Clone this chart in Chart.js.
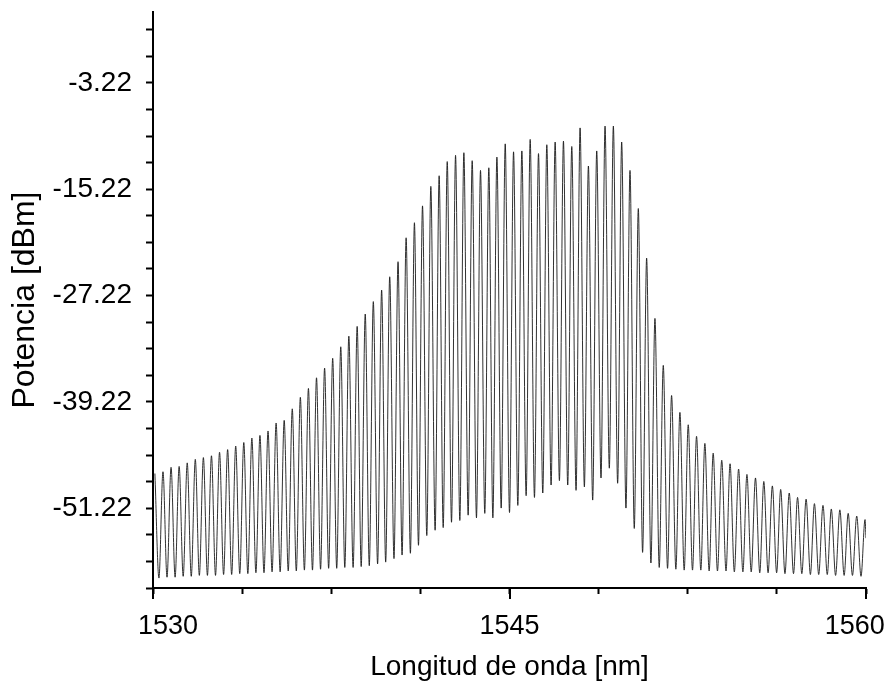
<!DOCTYPE html>
<html>
<head>
<meta charset="utf-8">
<script src="https://cdn.jsdelivr.net/npm/chart.js@4.4.1/dist/chart.umd.min.js"></script>
<style>
  html, body { margin: 0; padding: 0; background: #ffffff; }
  canvas { display: block; }
</style>
</head>
<body>
<canvas id="c" width="888" height="682"></canvas>
<script>
// ---- data ----
const peakWavelength = [
  1530.08,1530.42,1530.76,1531.10,1531.44,1531.78,1532.12,1532.46,1532.80,1533.14,
  1533.48,1533.82,1534.16,1534.50,1534.84,1535.18,1535.52,1535.86,1536.20,1536.54,
  1536.88,1537.22,1537.56,1537.90,1538.24,1538.59,1538.93,1539.27,1539.62,1539.96,
  1540.31,1540.65,1541.00,1541.34,1541.69,1542.04,1542.38,1542.73,1543.08,1543.43,
  1543.78,1544.13,1544.47,1544.82,1545.17,1545.52,1545.87,1546.22,1546.57,1546.92,
  1547.27,1547.62,1547.97,1548.32,1548.67,1549.02,1549.37,1549.72,1550.07,1550.42,
  1550.77,1551.12,1551.47,1551.82,1552.17,1552.52,1552.87,1553.22,1553.57,1553.93,
  1554.28,1554.64,1554.99,1555.35,1555.70,1556.06,1556.41,1556.77,1557.12,1557.48,
  1557.83,1558.19,1558.54,1558.90,1559.25,1559.61,1559.96
];
const peakPower = [
  -47.3,-47.1,-46.6,-46.5,-46.1,-45.7,-45.5,-45.3,-44.9,-44.6,
  -44.2,-43.8,-43.3,-43.0,-42.5,-41.6,-41.3,-40.0,-38.7,-37.7,
  -36.5,-35.4,-34.3,-33.0,-31.8,-30.7,-29.3,-27.9,-26.6,-25.1,
  -23.4,-20.7,-19.0,-17.1,-14.9,-13.7,-12.1,-11.4,-11.1,-12.0,
  -13.1,-12.8,-11.6,-10.1,-11.0,-10.9,-9.6,-11.2,-10.2,-9.9,
  -9.8,-10.4,-8.3,-12.6,-10.9,-8.1,-8.1,-9.9,-13.1,-17.4,
  -23.0,-29.8,-35.1,-38.5,-40.4,-41.8,-43.1,-43.9,-45.0,-45.8,
  -46.2,-46.8,-47.4,-47.8,-48.2,-48.7,-49.1,-49.5,-50.0,-50.2,
  -50.7,-50.9,-51.3,-51.4,-51.8,-52.1,-52.5
];
// minima between successive peaks (last entry: where the trace leaves the plot)
const troughWavelength = [
  1530.25,1530.59,1530.93,1531.27,1531.61,1531.95,1532.29,1532.63,1532.97,1533.31,
  1533.65,1533.99,1534.33,1534.67,1535.01,1535.35,1535.69,1536.03,1536.37,1536.71,
  1537.05,1537.39,1537.73,1538.07,1538.42,1538.76,1539.10,1539.45,1539.79,1540.14,
  1540.48,1540.83,1541.17,1541.52,1541.87,1542.21,1542.56,1542.91,1543.26,1543.61,
  1543.96,1544.30,1544.65,1545.00,1545.35,1545.70,1546.05,1546.40,1546.75,1547.10,
  1547.45,1547.80,1548.15,1548.50,1548.85,1549.20,1549.55,1549.90,1550.25,1550.60,
  1550.95,1551.30,1551.65,1552.00,1552.35,1552.70,1553.05,1553.40,1553.75,1554.11,
  1554.46,1554.82,1555.17,1555.53,1555.88,1556.24,1556.59,1556.95,1557.30,1557.66,
  1558.01,1558.37,1558.72,1559.08,1559.43,1559.79,1560.00
];
const troughPower = [
  -59.1,-59.0,-59.0,-58.9,-58.9,-58.8,-58.8,-58.8,-58.7,-58.7,
  -58.6,-58.6,-58.5,-58.5,-58.4,-58.4,-58.3,-58.3,-58.2,-58.2,
  -58.1,-58.0,-58.0,-57.9,-57.9,-57.8,-57.7,-57.5,-57.3,-56.9,
  -56.5,-56.3,-55.4,-54.3,-53.7,-53.4,-52.8,-52.6,-52.0,-52.3,
  -51.8,-52.3,-51.2,-51.7,-50.9,-49.8,-50.0,-49.5,-48.6,-48.1,
  -48.6,-49.2,-48.8,-50.3,-47.8,-46.7,-48.4,-51.2,-53.5,-56.2,
  -57.4,-57.9,-58.0,-58.1,-58.2,-58.2,-58.2,-58.3,-58.3,-58.3,
  -58.4,-58.4,-58.4,-58.5,-58.5,-58.5,-58.6,-58.6,-58.6,-58.7,
  -58.7,-58.7,-58.8,-58.8,-58.8,-58.9,-54.6
];
const xTickValues = [1530, 1533.75, 1537.5, 1541.25, 1545, 1548.75, 1552.5, 1556.25, 1560];
const xTickLabels = [1530, 1545, 1560];
const yTickValues = [-60.22,-57.22,-54.22,-51.22,-48.22,-45.22,-42.22,-39.22,-36.22,-33.22,-30.22,
                     -27.22,-24.22,-21.22,-18.22,-15.22,-12.22,-9.22,-6.22,-3.22,-0.22,2.78];
const yTickLabels = [-51.22, -39.22, -27.22, -15.22, -3.22];
const xTitle = 'Longitud de onda [nm]';
const yTitle = 'Potencia [dBm]';

// ---- build the trace (peak, minimum, peak, minimum ...) ----
const trace = [];
for (let i = 0; i < peakWavelength.length; i++) {
  trace.push({ x: peakWavelength[i], y: peakPower[i] });
  if (i < troughWavelength.length) trace.push({ x: troughWavelength[i], y: troughPower[i] });
}

const FONT = '"Liberation Sans", Arial, Helvetica, sans-serif';

// the end labels of the x axis sit slightly inside the axis ends, as in the original
function xLabel(v) {
  if (!xTickLabels.includes(v)) return '';
  if (v === xTickLabels[0]) return '    ' + v;
  if (v === xTickLabels[xTickLabels.length - 1]) return v + '   ';
  return String(v);
}

const majorTicks = {
  id: 'majorTicks',
  afterDraw(chart) {
    const s = chart.scales.x;
    const ctx = chart.ctx;
    ctx.save();
    ctx.strokeStyle = '#000';
    ctx.lineWidth = 2;
    xTickLabels.forEach(v => {
      const px = Math.round(s.getPixelForValue(v));
      ctx.beginPath();
      ctx.moveTo(px, s.top);
      ctx.lineTo(px, s.top + 11);
      ctx.stroke();
    });
    ctx.restore();
  }
};

new Chart(document.getElementById('c'), {
  type: 'line',
  data: {
    datasets: [{
      data: trace,
      borderColor: '#1a1a1a',
      borderWidth: 0.9,
      pointRadius: 0,
      cubicInterpolationMode: 'monotone',
      fill: false
    }]
  },
  options: {
    responsive: false,
    animation: false,
    devicePixelRatio: 1,
    layout: { padding: { top: 12, right: 22, left: 0, bottom: 0 } },
    plugins: { legend: { display: false }, tooltip: { enabled: false } },
    scales: {
      x: {
        type: 'linear',
        min: 1530,
        max: 1560,
        afterBuildTicks: s => { s.ticks = xTickValues.map(v => ({ value: v })); },
        afterFit: s => { s.height = 94; s.paddingLeft = 0; s.paddingRight = 0; },
        ticks: {
          autoSkip: false,
          maxRotation: 0,
          padding: 16,
          color: '#000',
          font: { family: FONT, size: 27 },
          callback: v => xLabel(v)
        },
        grid: { drawOnChartArea: false, tickLength: 6, tickColor: '#000', tickWidth: 2, color: '#000' },
        border: { color: '#000', width: 2 },
        title: {
          display: true,
          text: xTitle,
          color: '#000',
          font: { family: FONT, size: 28 },
          padding: { top: 0, bottom: -2 }
        }
      },
      y: {
        type: 'linear',
        min: -60.22,
        max: 4.78,
        afterBuildTicks: s => { s.ticks = yTickValues.map(v => ({ value: v })); },
        afterFit: s => { s.width = 153; s.paddingTop = 0; s.paddingBottom = 0; },
        ticks: {
          autoSkip: false,
          padding: 14,
          color: '#000',
          font: { family: FONT, size: 28 },
          callback: v => (yTickLabels.includes(v) ? String(v) : '')
        },
        grid: { drawOnChartArea: false, tickLength: 7, tickColor: '#000', tickWidth: 2, color: '#000' },
        border: { color: '#000', width: 2 },
        title: {
          display: true,
          text: yTitle,
          color: '#000',
          font: { family: FONT, size: 32 },
          padding: { top: 6, bottom: 0 }
        }
      }
    }
  },
  plugins: [majorTicks]
});
</script>
</body>
</html>
